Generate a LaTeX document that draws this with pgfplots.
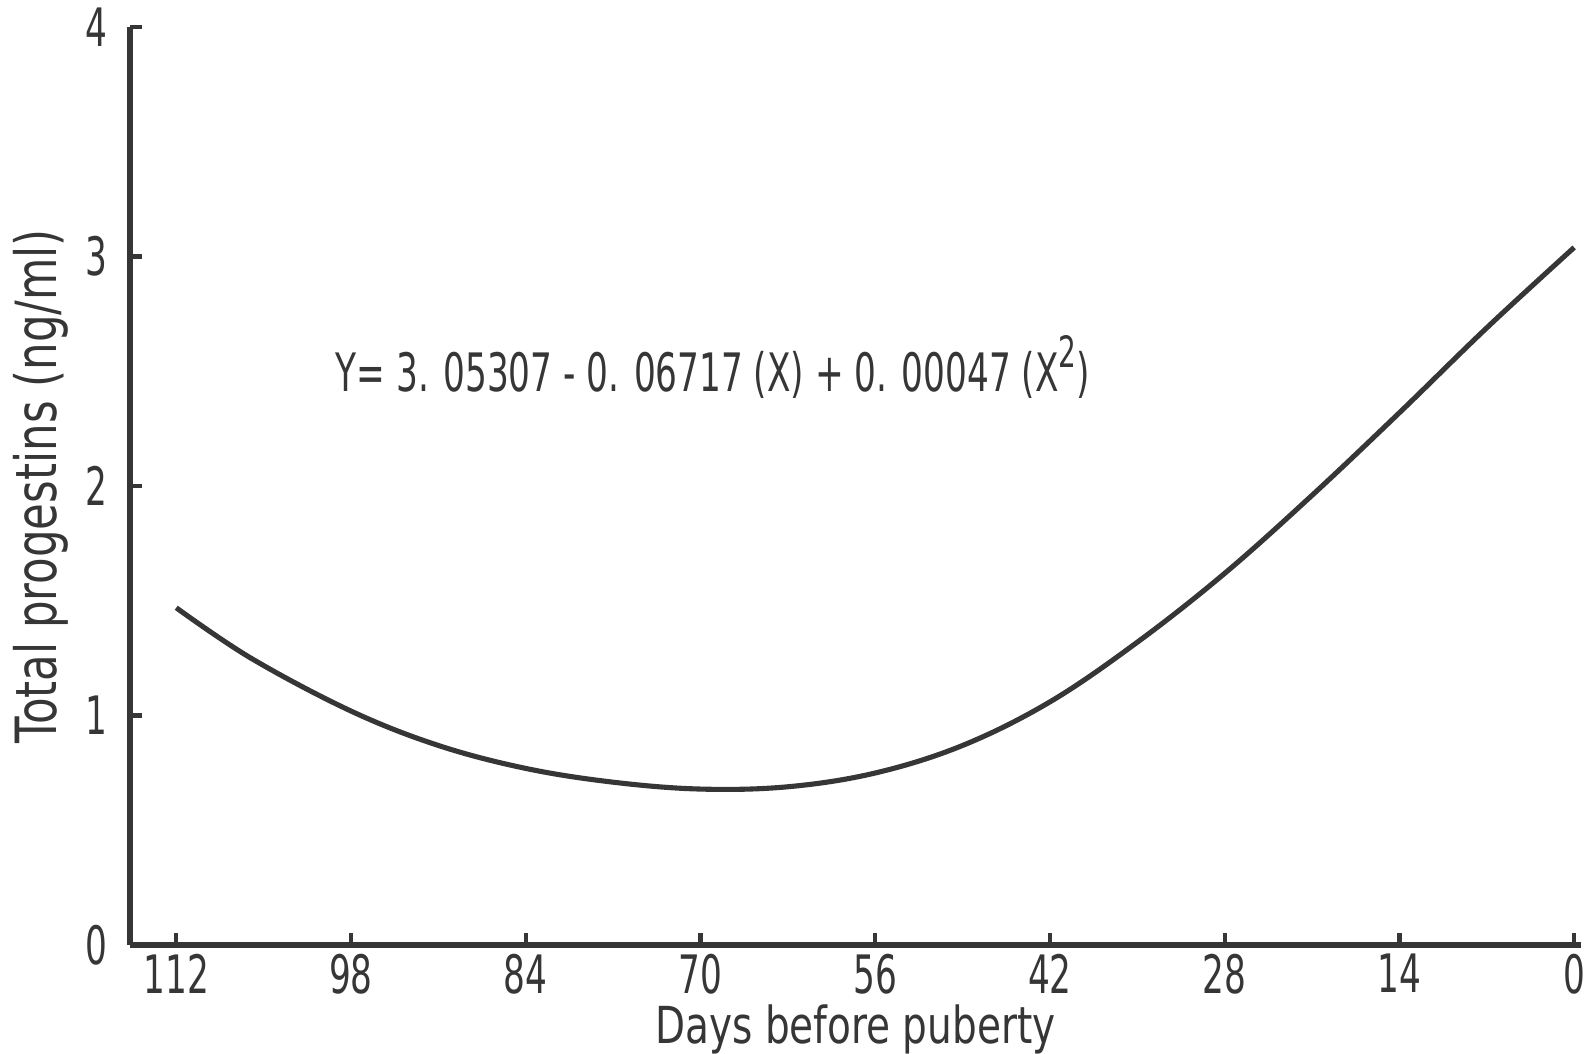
\documentclass[border=0pt]{standalone}
\usepackage{pgfplots}
\pgfplotsset{compat=1.18}
\usepackage{fontspec}
\setmainfont{DejaVu Sans Condensed}[FakeStretch=0.85]
\newfontfamily\narrowfont{DejaVu Sans Condensed}[FakeStretch=0.72]
\definecolor{ink}{HTML}{363636}
\pgfplotstableread{
X Y
112 1.47
106 1.25
98 1.02
91 0.87
84 0.77
77 0.71
70 0.68
63 0.69
56 0.75
49 0.87
42 1.06
35 1.32
28 1.62
21 1.96
14 2.32
7 2.69
0 3.04
}\curvedata
\begin{document}
\begin{tikzpicture}
\begin{axis}[
  width=369.8pt, height=234pt, scale only axis,
  x dir=reverse,
  xmin=-0.53, xmax=115.7, ymin=0, ymax=4,
  axis x line*=bottom, axis y line*=left,
  axis line style={ink, line width=1.6pt, -},
  xtick={0,14,...,112}, ytick={0,1,2,3,4},
  tick style={ink, line width=1.1pt},
  tick align=inside, major tick length=3pt,
  /pgf/number format/assume math mode=true,
  ticklabel style={font=\narrowfont\fontsize{13.5}{15}\selectfont, text=ink, inner sep=1pt},
  xticklabel style={yshift=-1pt},
  yticklabel style={inner sep=2pt, xshift=-3.5pt},
  xlabel={Days before puberty},
  ylabel={Total progestins (ng/ml)},
  label style={text=ink},
  xlabel style={font=\fontsize{13}{15}\selectfont, inner sep=0pt, yshift=-1.5pt},
  ylabel style={font=\fontsize{14.5}{16}\selectfont, yshift=-1pt},
  clip=false,
]
\addplot[ink, line width=1.3pt, smooth, tension=0.6] table[x=X, y=Y] {\curvedata};
\node[font=\narrowfont\fontsize{13.5}{15}\selectfont, text=ink] at (axis cs:69,2.52)
  {Y= 3. 05307 - 0. 06717 (X) + 0. 00047 (X\raisebox{0.45em}{\fontsize{11}{12}\selectfont 2})};
\end{axis}
\end{tikzpicture}
\end{document}
